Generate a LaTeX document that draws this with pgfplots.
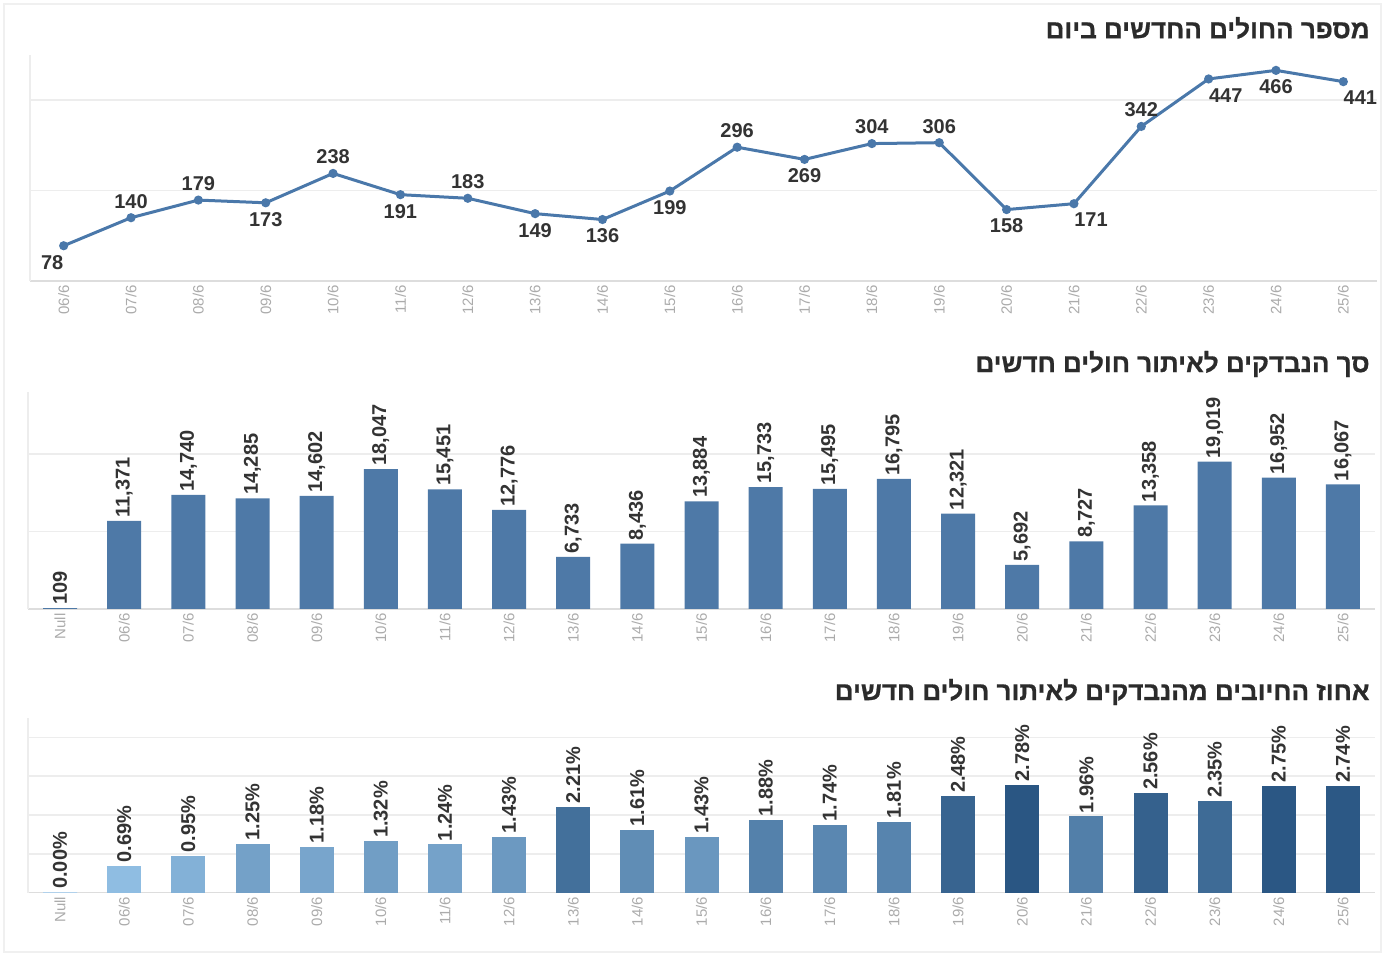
\documentclass[border=0pt]{standalone}
\usepackage{fontspec}
\setmainfont{Liberation Sans}
\newfontfamily\hebfont[Script=Hebrew, BoldFont={Liberation Sans Bold}, BoldFeatures={FakeBold=0.8}]{Liberation Sans}
\TeXXeTstate=1
\usepackage{pgfplots}
\pgfplotsset{compat=1.18}

\definecolor{linec}{HTML}{4A78AA}
\definecolor{barc}{HTML}{4E79A7}
\definecolor{lightb}{HTML}{8FBDE2}
\definecolor{darkb}{HTML}{2A5683}
\definecolor{gridc}{HTML}{EDEDED}
\definecolor{axisc}{HTML}{DDDDDD}
\definecolor{tickc}{HTML}{ABABAB}
\definecolor{labc}{HTML}{333333}
\definecolor{titc}{HTML}{2B2B2B}

\pgfplotsset{
  panel/.style={
    scale only axis, width=673.5pt, anchor=south west,
    axis x line*=bottom, axis y line*=left,
    x axis line style={draw=axisc, line width=0.8pt},
    y axis line style={draw=gridc, line width=0.8pt},
    ymin=0, yticklabels={}, ymajorgrids, scaled y ticks=false,
    grid style={draw=gridc, line width=0.8pt},
    major tick length=0pt, clip=false,
    xticklabel style={rotate=90, anchor=east, text=tickc, inner sep=2pt,
      font=\fontsize{7.5}{9}\selectfont},
    /pgf/number format/assume math mode=true,
  },
  pbar/.style={ybar, bar width=17pt, bar shift=0pt, draw=none, fill=darkb!#1!lightb},
  lab/.style={draw=none, mark=none, nodes near coords,
    every node near coord/.append style={anchor=#1, inner xsep=0pt, inner ysep=4.5pt,
      text=labc, font=\bfseries\fontsize{10}{12}\selectfont}},
}

\begin{document}
\begin{tikzpicture}
\useasboundingbox (0,0) rectangle (693.5pt,-478pt);
\draw[draw=black!6, line width=0.6pt] (2pt,-2pt) rectangle (690.5pt,-476pt);

% ---------- top: line ----------
\begin{axis}[panel, at={(15pt,-140.5pt)}, height=113pt,
  xmin=-0.5, xmax=19.5, ymax=500, ytick={200,400},
  xtick={0,...,19},
  xticklabels={06/6,07/6,08/6,09/6,10/6,11/6,12/6,13/6,14/6,15/6,16/6,17/6,18/6,19/6,20/6,21/6,22/6,23/6,24/6,25/6},
]
\addplot[linec, line width=1.5pt, mark=*, mark size=1.5pt,
  mark options={fill=linec, draw=linec}] coordinates {
(0,78) (1,140) (2,179) (3,173) (4,238) (5,191) (6,183) (7,149) (8,136) (9,199)
(10,296) (11,269) (12,304) (13,306) (14,158) (15,171) (16,342) (17,447) (18,466) (19,441)};
% value labels: above
\addplot[lab=south] coordinates {(1,140) (2,179) (4,238) (6,183) (10,296) (12,304) (13,306) (16,342)};
% below
\addplot[lab=north] coordinates {(3,173) (5,191) (7,149) (8,136) (9,199) (11,269) (14,158) (18,466)};
% below left
\addplot[lab=north east] coordinates {(0,78)};
% below right
\addplot[lab=north west] coordinates {(15,171) (17,447) (19,441)};
\end{axis}

% ---------- middle: bars ----------
\begin{axis}[panel, at={(14pt,-304.5pt)}, height=108.5pt,
  xmin=-0.5, xmax=20.5, ymax=28000, ytick={10000,20000},
  xtick={0,...,20},
  xticklabels={Null,06/6,07/6,08/6,09/6,10/6,11/6,12/6,13/6,14/6,15/6,16/6,17/6,18/6,19/6,20/6,21/6,22/6,23/6,24/6,25/6},
  nodes near coords={\pgfmathprintnumber[fixed,1000 sep={,}]{\pgfplotspointmeta}},
  every node near coord/.append style={rotate=90, anchor=west, inner sep=1.5pt,
    text=labc, font=\bfseries\fontsize{10}{12}\selectfont},
]
\addplot[ybar, bar width=17pt, draw=none, fill=barc] coordinates {
(0,109) (1,11371) (2,14740) (3,14285) (4,14602) (5,18047) (6,15451) (7,12776)
(8,6733) (9,8436) (10,13884) (11,15733) (12,15495) (13,16795) (14,12321)
(15,5692) (16,8727) (17,13358) (18,19019) (19,16952) (20,16067)};
\end{axis}

% ---------- bottom: percentage bars ----------
\begin{axis}[panel, at={(14pt,-446.25pt)}, height=87.25pt,
  xmin=-0.5, xmax=20.5, ymax=4.5, ytick={1,2,3,4},
  xtick={0,...,20},
  xticklabels={Null,06/6,07/6,08/6,09/6,10/6,11/6,12/6,13/6,14/6,15/6,16/6,17/6,18/6,19/6,20/6,21/6,22/6,23/6,24/6,25/6},
  nodes near coords={\pgfmathprintnumber[fixed,fixed zerofill,precision=2]{\pgfplotspointmeta}\%},
  every node near coord/.append style={rotate=90, anchor=west, inner sep=1.5pt,
    text=labc, font=\bfseries\fontsize{10}{12}\selectfont},
]
\addplot[pbar=0, draw=lightb!70, line width=0.8pt] coordinates {(0,0.00)};
\addplot[pbar=0]   coordinates {(1,0.69)};
\addplot[pbar=12]  coordinates {(2,0.95)};
\addplot[pbar=27]  coordinates {(3,1.25)};
\addplot[pbar=23]  coordinates {(4,1.18)};
\addplot[pbar=30]  coordinates {(5,1.32)};
\addplot[pbar=26]  coordinates {(6,1.24)};
\addplot[pbar=35]  coordinates {(7,1.43)};
\addplot[pbar=75]  coordinates {(8,2.21)};
\addplot[pbar=47]  coordinates {(9,1.61)};
\addplot[pbar=37]  coordinates {(10,1.43)};
\addplot[pbar=58]  coordinates {(11,1.88)};
\addplot[pbar=52]  coordinates {(12,1.74)};
\addplot[pbar=55]  coordinates {(13,1.81)};
\addplot[pbar=86]  coordinates {(14,2.48)};
\addplot[pbar=100] coordinates {(15,2.78)};
\addplot[pbar=60]  coordinates {(16,1.96)};
\addplot[pbar=89]  coordinates {(17,2.56)};
\addplot[pbar=80]  coordinates {(18,2.35)};
\addplot[pbar=99]  coordinates {(19,2.75)};
\addplot[pbar=98]  coordinates {(20,2.74)};
\end{axis}

% ---------- titles ----------
\node[anchor=east, text=titc, font=\hebfont\bfseries\fontsize{13}{15}\selectfont, inner sep=0pt]
  at (685pt,-14pt) {\beginR מספר החולים החדשים ביום\endR};
\node[anchor=east, text=titc, font=\hebfont\bfseries\fontsize{13}{15}\selectfont, inner sep=0pt]
  at (685pt,-182pt) {\beginR סך הנבדקים לאיתור חולים חדשים\endR};
\node[anchor=east, text=titc, font=\hebfont\bfseries\fontsize{13}{15}\selectfont, inner sep=0pt]
  at (685pt,-346pt) {\beginR אחוז החיובים מהנבדקים לאיתור חולים חדשים\endR};
\end{tikzpicture}
\end{document}
